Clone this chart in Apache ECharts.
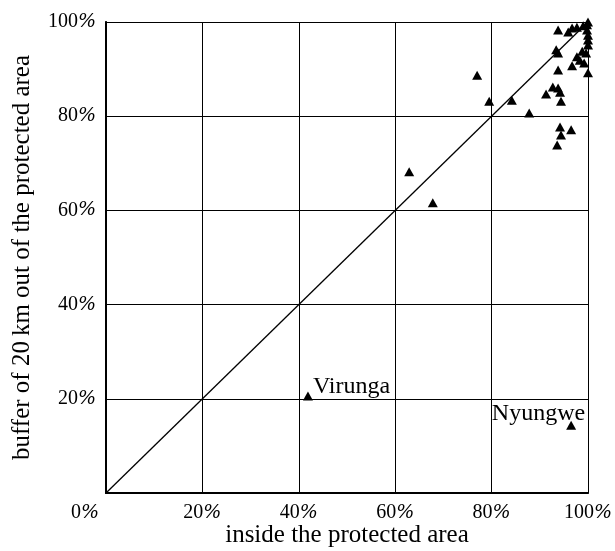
<!DOCTYPE html>
<html><head><meta charset="utf-8">
<script src="https://cdn.jsdelivr.net/npm/echarts@6/dist/echarts.min.js"></script>
<style>html,body{margin:0;padding:0;background:#fff}#c{width:615px;height:551px}</style>
</head><body><div id="c"></div>
<script>
// inside protected area (%), buffer 20 km (%)
const insideVals = [100, 99.8, 99.0, 97.7, 96.7, 95.9, 93.8, 99.8, 100, 100, 100, 93.4, 93.8, 98.8, 99.6, 97.7, 98.3, 99.2, 96.7, 93.8, 100, 77.0, 92.7, 93.8, 94.2, 91.3, 94.4, 84.2, 79.5, 87.8, 94.2, 96.5, 94.4, 93.6, 62.9, 67.8, 41.9, 96.5];
const bufferVals = [100, 99.4, 99.2, 98.9, 98.7, 97.9, 98.3, 98.3, 97.2, 96.2, 95.1, 94.1, 93.4, 93.8, 93.4, 92.6, 91.9, 91.3, 90.7, 89.8, 89.2, 88.7, 86.2, 86.0, 85.1, 84.7, 83.2, 83.4, 83.2, 80.7, 77.7, 77.1, 76.0, 73.9, 68.2, 61.6, 20.6, 14.4];
const pointNames = ['', '', '', '', '', '', '', '', '', '', '', '', '', '', '', '', '', '', '', '', '', '', '', '', '', '', '', '', '', '', '', '', '', '', '', '', 'Virunga', 'Nyungwe'];
const tickVals = [0, 20, 40, 60, 80, 100];
const xTitle = 'inside the protected area';
const yTitle = 'buffer of 20\u2009km out of the protected area';

const font = 'Liberation Serif';
const pts = insideVals.map((x, i) => {
  const d = { value: [x, bufferVals[i]], name: pointNames[i] };
  if (pointNames[i] === 'Virunga') {
    d.label = { show: true, position: 'right', distance: 0, offset: [0, -9] };
  } else if (pointNames[i] === 'Nyungwe') {
    d.label = { show: true, position: 'top', align: 'right', distance: 0, offset: [14, 5] };
  }
  return d;
});

const chart = echarts.init(document.getElementById('c'), null, { renderer: 'canvas' });
const richTick = {
  d: { fontFamily: font, fontSize: 20, color: '#000' },
  p: { fontFamily: 'DejaVu Serif', fontStyle: 'italic', fontSize: 19, color: '#000' },
  q: { fontFamily: 'DejaVu Serif', fontStyle: 'italic', fontSize: 19, color: '#000', padding: [0, 7, 0, 0] }
};
const tickFmt = v => '{d|' + v + '}' + (v === 0 ? '{q|%}' : '{p|%}');
const labelBase = { color: '#000', fontFamily: font, fontSize: 20, margin: 10, formatter: tickFmt, rich: richTick };
chart.setOption({
  animation: false,
  backgroundColor: '#fff',
  grid: { left: 106, top: 22, width: 482, height: 471, containLabel: false, outerBoundsMode: 'none' },
  xAxis: [
    {
      type: 'value', min: tickVals[0], max: tickVals[tickVals.length - 1], interval: 20,
      name: xTitle, nameLocation: 'middle', nameGap: 30, nameMoveOverlap: false,
      nameTextStyle: { color: '#000', fontFamily: font, fontSize: 25 },
      axisTick: { show: false },
      splitLine: { show: true, lineStyle: { color: '#000', width: 1 } },
      axisLine: { show: true, lineStyle: { color: '#000', width: 1.5 } },
      axisLabel: Object.assign({}, labelBase, { alignMinLabel: 'right' })
    },
    { type: 'value', position: 'top', min: 0, max: 100, axisTick: { show: false }, axisLabel: { show: false }, splitLine: { show: false }, axisLine: { show: true, lineStyle: { color: '#000', width: 2 } } }
  ],
  yAxis: [
    {
      type: 'value', min: tickVals[0], max: tickVals[tickVals.length - 1], interval: 20,
      name: yTitle, nameLocation: 'middle', nameGap: 71, nameMoveOverlap: false,
      nameTextStyle: { color: '#000', fontFamily: font, fontSize: 25 },
      axisTick: { show: false },
      splitLine: { show: true, lineStyle: { color: '#000', width: 1 } },
      axisLine: { show: true, lineStyle: { color: '#000', width: 1.5 } },
      axisLabel: Object.assign({}, labelBase, { showMinLabel: false })
    },
    { type: 'value', position: 'right', min: 0, max: 100, axisTick: { show: false }, axisLabel: { show: false }, splitLine: { show: false }, axisLine: { show: true, lineStyle: { color: '#000', width: 2 } } }
  ],
  series: [
    {
      type: 'line', data: [[0, 0], [100, 100]], showSymbol: false, symbol: 'none',
      lineStyle: { color: '#000', width: 1.3 }, z: 2
    },
    {
      type: 'scatter', data: pts, symbol: 'triangle', symbolSize: [10, 9],
      itemStyle: { color: '#000', opacity: 1 },
      label: { show: false, formatter: '{b}', color: '#000', fontFamily: font, fontSize: 24 },
      z: 3
    }
  ]
});
</script>
</body></html>
